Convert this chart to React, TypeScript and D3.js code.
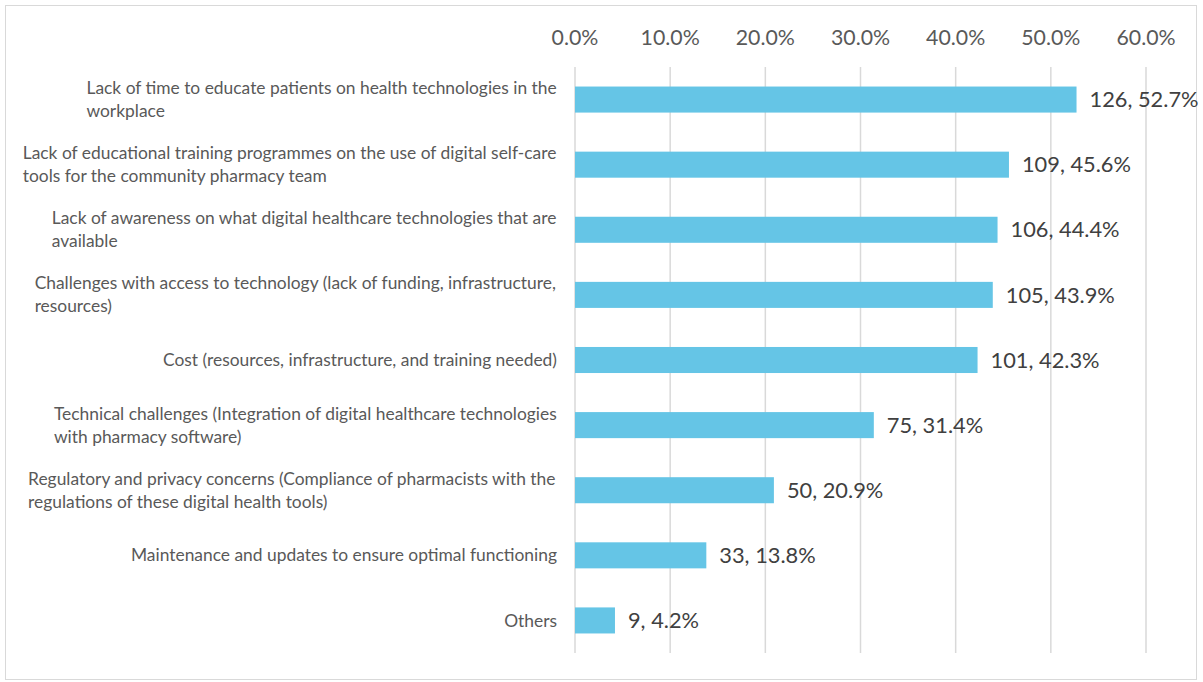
import React from "react";
import * as d3 from "d3";

const categories: string[][] = [
  ["Lack of time to educate patients on health technologies in the", "workplace"],
  ["Lack of educational training programmes on the use of digital self-care", "tools for the community pharmacy team"],
  ["Lack of awareness on what digital healthcare technologies that are", "available"],
  ["Challenges with access to technology (lack of funding, infrastructure,", "resources)"],
  ["Cost (resources, infrastructure, and training needed)"],
  ["Technical challenges (Integration of digital healthcare technologies", "with pharmacy software)"],
  ["Regulatory and privacy concerns (Compliance of pharmacists with the", "regulations of these digital health tools)"],
  ["Maintenance and updates to ensure optimal functioning"],
  ["Others"],
];
const counts: number[] = [126, 109, 106, 105, 101, 75, 50, 33, 9];
const percents: number[] = [52.7, 45.6, 44.4, 43.9, 42.3, 31.4, 20.9, 13.8, 4.2];
const ticks: number[] = [0, 10, 20, 30, 40, 50, 60];

const W = 1203;
const H = 682;
const left = 575;
const right = 1146;
const top = 67;
const bottom = 653;
const font = "Lato, 'Open Sans', sans-serif";
const textColor = "#595959";
const catSize = 17.4;

let ctx: CanvasRenderingContext2D | null = null;
function measure(s: string, size: number): number {
  if (!ctx) ctx = document.createElement("canvas").getContext("2d");
  if (!ctx) return s.length * size * 0.5;
  ctx.font = `${size}px Lato`;
  return ctx.measureText(s).width;
}

export default function App() {
  const x = d3.scaleLinear().domain([0, 60]).range([left, right]);
  const idx = categories.map((_, i) => String(i));
  const y = d3.scaleBand<string>().domain(idx).range([top, bottom]).paddingInner(0.6).paddingOuter(0.3);
  const lineH = 23;
  const labelRight = 557;
  return (
    <svg width={W} height={H} style={{ position: "absolute", left: 0, top: 0 }}>
      <rect x={0} y={0} width={W} height={H} fill="#fff" />
      <rect x={5.5} y={5.5} width={1191} height={674} fill="none" stroke="#d9d9d9" strokeWidth={1} />
      {ticks.map((t) => (
        <g key={t}>
          <line x1={x(t)} x2={x(t)} y1={top} y2={bottom} stroke="#d9d9d9" strokeWidth={1.5} />
          <text x={x(t)} y={44.5} textAnchor="middle" fontFamily={font} fontSize={21.3} fill={textColor}>
            {t.toFixed(1) + "%"}
          </text>
        </g>
      ))}
      {categories.map((lines, i) => {
        const yb = y(String(i))!;
        const cy = yb + y.bandwidth() / 2;
        const startY = cy - ((lines.length - 1) * lineH) / 2;
        const maxW = Math.max(...lines.map((l) => measure(l, catSize)));
        const lx = labelRight - maxW;
        return (
          <g key={i}>
            <rect x={x(0)} y={yb} width={x(percents[i]) - x(0)} height={y.bandwidth()} fill="#65c5e6" />
            <text textAnchor="start" fontFamily={font} fontSize={catSize} fill={textColor}>
              {lines.map((l, j) => (
                <tspan key={j} x={lx} y={startY + j * lineH} dy="0.35em">
                  {l}
                </tspan>
              ))}
            </text>
            <text x={x(percents[i]) + 13} y={cy} dy="0.35em" fontFamily={font} fontSize={21.8} fill="#404040">
              {counts[i] + ", " + percents[i].toFixed(1) + "%"}
            </text>
          </g>
        );
      })}
    </svg>
  );
}
